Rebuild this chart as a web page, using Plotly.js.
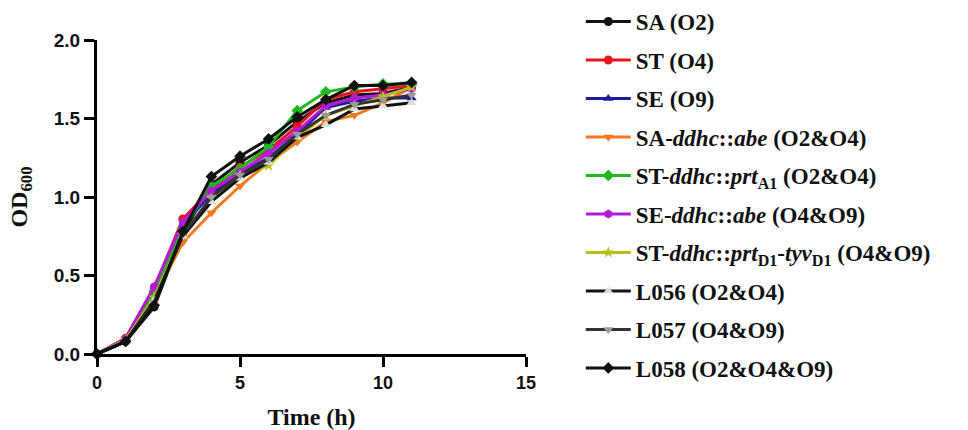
<!DOCTYPE html>
<html>
<head>
<meta charset="utf-8">
<script src="https://cdn.plot.ly/plotly-3.0.1.min.js"></script>
<style>html,body{margin:0;padding:0;background:#fff}#chart{width:968px;height:430px}</style>
</head>
<body>
<div id="chart"></div>
<script>
const hours = [0, 1, 2, 3, 4, 5, 6, 7, 8, 9, 10, 11];

const seriesNames = [
  "SA (O2)",
  "ST (O4)",
  "SE (O9)",
  "SA-<i>ddhc</i>::<i>abe</i> (O2&amp;O4)",
  "ST-<i>ddhc</i>::<i>prt</i><sub>A1</sub> (O2&amp;O4)",
  "SE-<i>ddhc</i>::<i>abe</i> (O4&amp;O9)",
  "ST-<i>ddhc</i>::<i>prt</i><sub>D1</sub>-<i>tyv</i><sub>D1</sub> (O4&amp;O9)",
  "L056 (O2&amp;O4)",
  "L057 (O4&amp;O9)",
  "L058 (O2&amp;O4&amp;O9)"
];

const odSA      = [0, 0.08, 0.30, 0.77, 1.08, 1.22, 1.33, 1.48, 1.60, 1.65, 1.66, 1.70];
const odST      = [0, 0.10, 0.42, 0.86, 1.05, 1.19, 1.30, 1.45, 1.62, 1.67, 1.69, 1.71];
const odSE      = [0, 0.09, 0.38, 0.82, 1.02, 1.15, 1.25, 1.40, 1.57, 1.61, 1.63, 1.63];
const odSAabe   = [0, 0.10, 0.36, 0.71, 0.90, 1.07, 1.22, 1.35, 1.48, 1.52, 1.60, 1.70];
const odSTprtA1 = [0, 0.09, 0.40, 0.80, 1.07, 1.18, 1.32, 1.55, 1.67, 1.70, 1.72, 1.72];
const odSEabe   = [0, 0.10, 0.43, 0.84, 1.04, 1.16, 1.28, 1.42, 1.58, 1.63, 1.65, 1.69];
const odSTprtD1 = [0, 0.09, 0.36, 0.76, 0.99, 1.14, 1.20, 1.38, 1.52, 1.58, 1.64, 1.70];
const odL056    = [0, 0.08, 0.34, 0.75, 0.97, 1.12, 1.22, 1.38, 1.46, 1.56, 1.58, 1.60];
const odL057    = [0, 0.08, 0.33, 0.76, 1.00, 1.14, 1.24, 1.40, 1.52, 1.59, 1.62, 1.65];
const odL058    = [0, 0.08, 0.31, 0.78, 1.13, 1.26, 1.37, 1.51, 1.62, 1.71, 1.71, 1.73];

const allSeries = [odSA, odST, odSE, odSAabe, odSTprtA1, odSEabe, odSTprtD1, odL056, odL057, odL058];

const lineColors   = ["#111111", "#e8141c", "#1c1c96", "#f5781e", "#1fb81f", "#b21ad6", "#bdbd1a", "#111111", "#333333", "#111111"];
const markerColors = ["#111111", "#e8141c", "#1c1c96", "#f5781e", "#1fb81f", "#b21ad6", "#bdbd1a", "#dddddd", "#9a9a9a", "#111111"];
const symbols = ["circle", "circle", "triangle-up", "triangle-down", "diamond", "hexagon", "star", "triangle-up", "triangle-down", "diamond"];

const traces = allSeries.map((ys, i) => ({
  type: "scatter",
  mode: "lines+markers",
  x: hours,
  y: ys,
  name: seriesNames[i],
  legendgroup: "g" + i,
  cliponaxis: false,
  line: {color: lineColors[i], width: 3},
  marker: {symbol: symbols[i], size: 9, color: markerColors[i], line: {width: 0}}
}));

const layout = {
  width: 968, height: 430,
  margin: {l: 97, r: 442, t: 40, b: 76},
  paper_bgcolor: "#fff", plot_bgcolor: "#fff",
  showlegend: true,
  xaxis: {
    range: [0, 15], tickvals: [0, 5, 10, 15], ticktext: ["0", "5", "10", "15"],
    showgrid: false, zeroline: false, showline: true, linecolor: "#000", linewidth: 3,
    ticks: "outside", ticklen: 10, tickwidth: 3, tickcolor: "#000",
    tickfont: {family: "Liberation Sans, Arial", size: 18, color: "#111", weight: "bold"},
    title: {text: "<b>Time (h)</b>", font: {family: "Liberation Serif, Times New Roman", size: 24, color: "#111"}, standoff: 20}
  },
  yaxis: {
    range: [0, 2], tickvals: [0, 0.5, 1, 1.5, 2], ticktext: ["0.0", "0.5", "1.0", "1.5", "2.0"],
    showgrid: false, zeroline: false, showline: true, linecolor: "#000", linewidth: 3,
    ticks: "outside", ticklen: 10, tickwidth: 3, tickcolor: "#000",
    tickfont: {family: "Liberation Sans, Arial", size: 19, color: "#111", weight: "bold"},
    title: {text: "<b>OD<sub>600</sub></b>", font: {family: "Liberation Serif, Times New Roman", size: 24, color: "#111"}, standoff: 20}
  },
  legend: {
    xref: "container", yref: "container",
    x: 0.6, y: 1.0, xanchor: "left", yanchor: "top",
    maxheight: 430,
    font: {family: "Liberation Serif, Times New Roman", size: 23, color: "#111", weight: "bold"},
    tracegroupgap: 5.6, itemwidth: 45, bgcolor: "rgba(0,0,0,0)"
  }
};

Plotly.newPlot("chart", traces, layout, {displayModeBar: false, staticPlot: true});
</script>
</body>
</html>
